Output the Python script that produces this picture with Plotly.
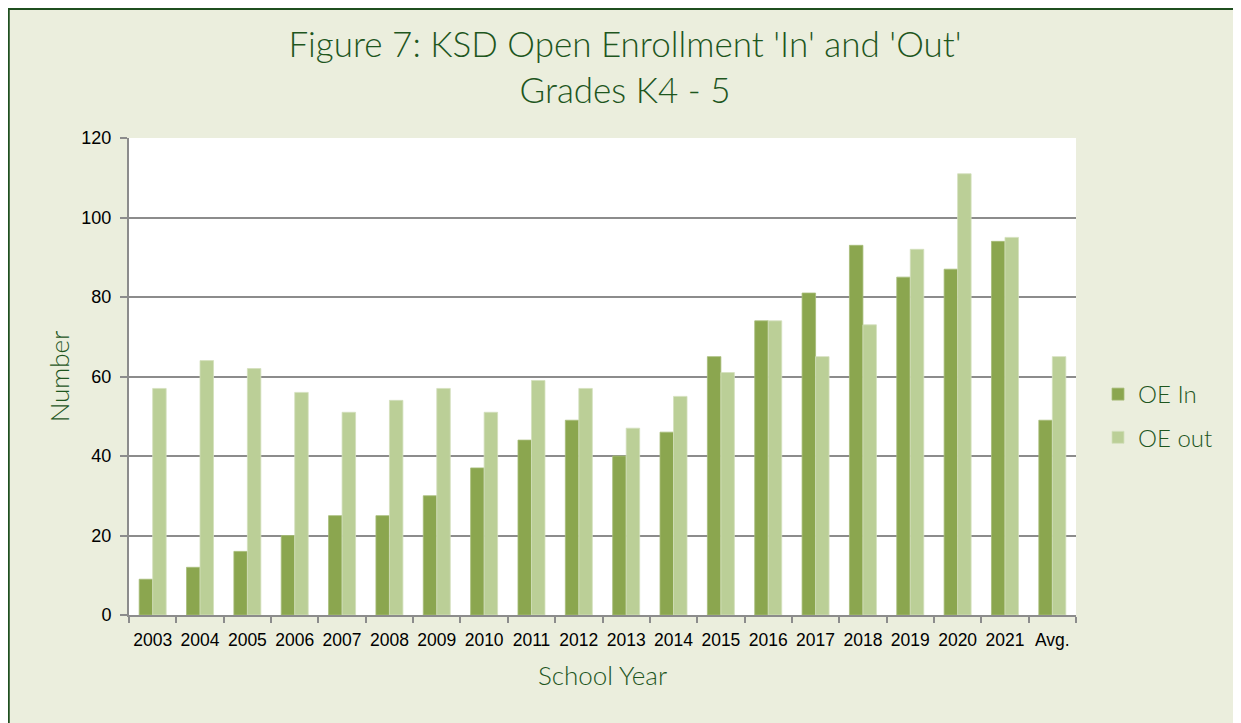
import plotly.graph_objects as go

years = ["2003", "2004", "2005", "2006", "2007", "2008", "2009", "2010", "2011", "2012",
         "2013", "2014", "2015", "2016", "2017", "2018", "2019", "2020", "2021", "Avg."]
oe_in = [9, 12, 16, 20, 25, 25, 30, 37, 44, 49, 40, 46, 65, 74, 81, 93, 85, 87, 94, 49]
oe_out = [57, 64, 62, 56, 51, 54, 57, 51, 59, 57, 47, 55, 61, 74, 65, 73, 92, 111, 95, 65]
y_ticks = [0, 20, 40, 60, 80, 100, 120]

# page has an 8px body margin; work in reference-screen coordinates minus offset
OFF = 8
W, H = 1241 - OFF, 723 - OFF
L, R, T, B = 129 - OFF, 1076 - OFF, 138 - OFF, 615 - OFF


def px(x):
    return (x - OFF - L) / (R - L)


def py(y):
    return (B - (y - OFF)) / (B - T)


DARK = "#1E561E"
TITLE_FONT = "Lato"
TICK_FONT = "Liberation Sans"

fig = go.Figure()
fig.add_trace(go.Bar(x=years, y=oe_in, name="OE In", legendgroup="a",
                     marker=dict(color="#8BA64F", line=dict(color="#A7BD78", width=0.8))))
fig.add_trace(go.Bar(x=years, y=oe_out, name="OE out", legendgroup="b",
                     marker=dict(color="#BBCF97", line=dict(color="#D3E0BC", width=0.8))))

shapes = [
    dict(type="line", xref="paper", yref="paper", x0=px(0), x1=px(1245), y0=py(8.5), y1=py(8.5),
         line=dict(color="#1F4F1F", width=3)),
    dict(type="line", xref="paper", yref="paper", x0=px(8.5), x1=px(8.5), y0=py(8), y1=py(730),
         line=dict(color="#1F4F1F", width=2.5)),
    dict(type="line", xref="paper", yref="paper", x0=px(1240), x1=px(1240), y0=py(10), y1=py(730),
         line=dict(color="#93B890", width=2)),
]

fig.update_layout(
    width=W, height=H,
    margin=dict(l=L, r=W - R, t=T, b=H - B, autoexpand=False),
    paper_bgcolor="#EBEEDD",
    plot_bgcolor="white",
    barmode="group",
    bargap=0.43,
    bargroupgap=0,
    showlegend=True,
    title=dict(text="Figure 7: KSD Open Enrollment 'In' and 'Out'<br>Grades K4 - 5",
               x=(625 - OFF) / W, xanchor="center", xref="container",
               y=1 - (57 - OFF) / H, yanchor="middle", yref="container",
               font=dict(family=TITLE_FONT, size=35, color=DARK, weight=300)),
    legend=dict(x=px(1098), xanchor="left", y=py(416), yanchor="middle",
                font=dict(family=TITLE_FONT, size=24, color=DARK, weight=300),
                bgcolor="rgba(0,0,0,0)", tracegroupgap=9, itemwidth=30,
                traceorder="grouped"),
    xaxis=dict(
        type="category",
        tickson="boundaries",
        tickangle=0,
        ticks="outside", ticklen=6, tickcolor="#8C8C8C", tickwidth=2,
        ticklabelstandoff=8,
        showline=True, linecolor="#8C8C8C", linewidth=2,
        showgrid=False,
        tickfont=dict(family=TICK_FONT, size=17.5, color="black"),
        title=dict(text="School Year", standoff=18,
                   font=dict(family=TITLE_FONT, size=26, color=DARK, weight=300)),
    ),
    yaxis=dict(
        range=[0, 120],
        tickvals=y_ticks,
        ticks="outside", ticklen=7, tickcolor="#8C8C8C", tickwidth=2,
        ticklabelstandoff=5,
        showline=True, linecolor="#8C8C8C", linewidth=2,
        showgrid=True, gridcolor="#8C8C8C", gridwidth=2,
        zeroline=False,
        tickfont=dict(family=TICK_FONT, size=18, color="black"),
        title=dict(text="Number", standoff=4,
                   font=dict(family=TITLE_FONT, size=26, color=DARK, weight=300)),
    ),
    shapes=shapes,
)

fig.write_html("out.html")
